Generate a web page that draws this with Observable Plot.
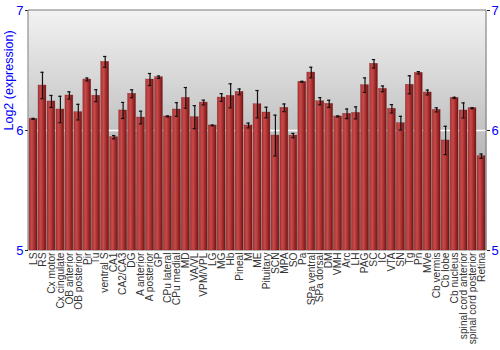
<!DOCTYPE html>
<html>
<head>
<meta charset="utf-8">
<script src="https://cdn.jsdelivr.net/npm/d3@7"></script>
<script src="https://cdn.jsdelivr.net/npm/@observablehq/plot@0.6"></script>
<style>
body { margin: 0; background: #fff; }
</style>
</head>
<body>
<div id="chart"></div>
<script>
const regions = ["LS","RS","Cx motor","Cx cingulate","OB anterior","OB posterior","Pir","Tu","ventral S","CA1","CA2/CA3","DG","A anterior","A posterior","GP","CPu lateral","CPu medial","MD","VA/VL","VPM/VPL","LG","MG","Hb","Pineal","M","ME","Pituitary","SCN","MPA","SO","Pa","SPa ventral","SPa dorsal","DM","VMH","Arc","LH","PAG","SC","IC","VTA","SN","Tg","Pn","MVe","Cb vermis","Cb lobe","Cb nucleus","spinal cord anterior","spinal cord posterior","Retina"];
const expression = [6.097,6.375,6.242,6.175,6.292,6.153,6.425,6.29,6.572,5.944,6.167,6.306,6.108,6.425,6.444,6.117,6.175,6.272,6.111,6.233,6.042,6.275,6.289,6.322,6.042,6.219,6.15,5.958,6.189,5.958,6.406,6.483,6.244,6.222,6.117,6.139,6.147,6.378,6.556,6.347,6.181,6.061,6.381,6.481,6.317,6.172,5.917,6.272,6.167,6.186,5.786];
const errors = [0.004,0.11,0.05,0.11,0.03,0.065,0.012,0.05,0.045,0.014,0.067,0.033,0.053,0.05,0.01,0.004,0.057,0.086,0.096,0.02,0.003,0.032,0.1,0.024,0.02,0.114,0.044,0.17,0.032,0.018,0.004,0.044,0.03,0.03,0.004,0.04,0.05,0.06,0.035,0.024,0.035,0.057,0.075,0.01,0.02,0.017,0.118,0.005,0.063,0.004,0.018];
const yTicks = [5, 6, 7];

const data = regions.map((r, i) => ({region: r, value: expression[i], lo: expression[i] - errors[i], hi: expression[i] + errors[i]}));

const plot = Plot.plot({
  width: 500,
  height: 350,
  marginLeft: 28,
  marginRight: 14,
  marginTop: 10,
  marginBottom: 100,
  style: {fontFamily: "Liberation Sans, Arial, sans-serif", background: "#fff"},
  x: {domain: regions, padding: 0.12, label: null},
  y: {domain: [5, 7], label: null},
  marks: [
    Plot.frame({fill: "url(#bgGrad)", stroke: null}),
    Plot.ruleY([6], {stroke: "#fff", strokeWidth: 1.5}),
    Plot.barY(data, {x: "region", y1: 5, y2: "value", fill: "url(#barGrad)", stroke: "#7a1a1a", strokeWidth: 0.5, strokeOpacity: 0.6}),
    Plot.ruleX(data, {x: "region", y1: "lo", y2: "hi", stroke: "#111", strokeWidth: 1.2}),
    Plot.tickY(data, {x: "region", y: "lo", stroke: "#111", strokeWidth: 1.2, insetLeft: 2.3, insetRight: 2.3}),
    Plot.tickY(data, {x: "region", y: "hi", stroke: "#111", strokeWidth: 1.2, insetLeft: 2.3, insetRight: 2.3}),
    Plot.axisY({anchor: "left", ticks: yTicks, tickSize: 3, tickFormat: d3.format("d"), fill: "#0000ff", fontSize: 13, tickPadding: 2, stroke: "#222", label: null}),
    Plot.axisY({anchor: "right", ticks: yTicks, tickSize: 3, tickFormat: d3.format("d"), fill: "#0000ff", fontSize: 13, tickPadding: 2, stroke: "#222", label: null}),
    Plot.axisX({anchor: "bottom", tickRotate: -90, tickSize: 0, tickPadding: 2, fontSize: 10.2, fill: "#333", label: null}),
    Plot.text(["Log2 (expression)"], {frameAnchor: "left", dx: -20, rotate: -90, fill: "#0000ff", fontSize: 12.5})
  ]
});

const svg = d3.select(plot);
const defs = svg.insert("defs", ":first-child");
const bg = defs.append("linearGradient").attr("id", "bgGrad").attr("x1", 0).attr("y1", 0).attr("x2", 0).attr("y2", 1);
bg.append("stop").attr("offset", "0%").attr("stop-color", "#f2f2f2");
bg.append("stop").attr("offset", "50%").attr("stop-color", "#c2c2c2");
bg.append("stop").attr("offset", "100%").attr("stop-color", "#959595");
const bar = defs.append("linearGradient").attr("id", "barGrad").attr("x1", 0).attr("y1", 0).attr("x2", 1).attr("y2", 0);
bar.append("stop").attr("offset", "0%").attr("stop-color", "#a83434");
bar.append("stop").attr("offset", "35%").attr("stop-color", "#c84a4a");
bar.append("stop").attr("offset", "70%").attr("stop-color", "#a32a2a");
bar.append("stop").attr("offset", "100%").attr("stop-color", "#6e1414");

// frame lines (left, top, right)
const xs = 28, xe = 486, yt = 10, yb = 250;
const g = svg.append("g").attr("stroke", "#777").attr("stroke-width", 1).attr("fill", "none");
g.append("path").attr("d", `M${xs},${yb}V${yt}H${xe}V${yb}`);

document.getElementById("chart").appendChild(plot);
</script>
</body>
</html>
